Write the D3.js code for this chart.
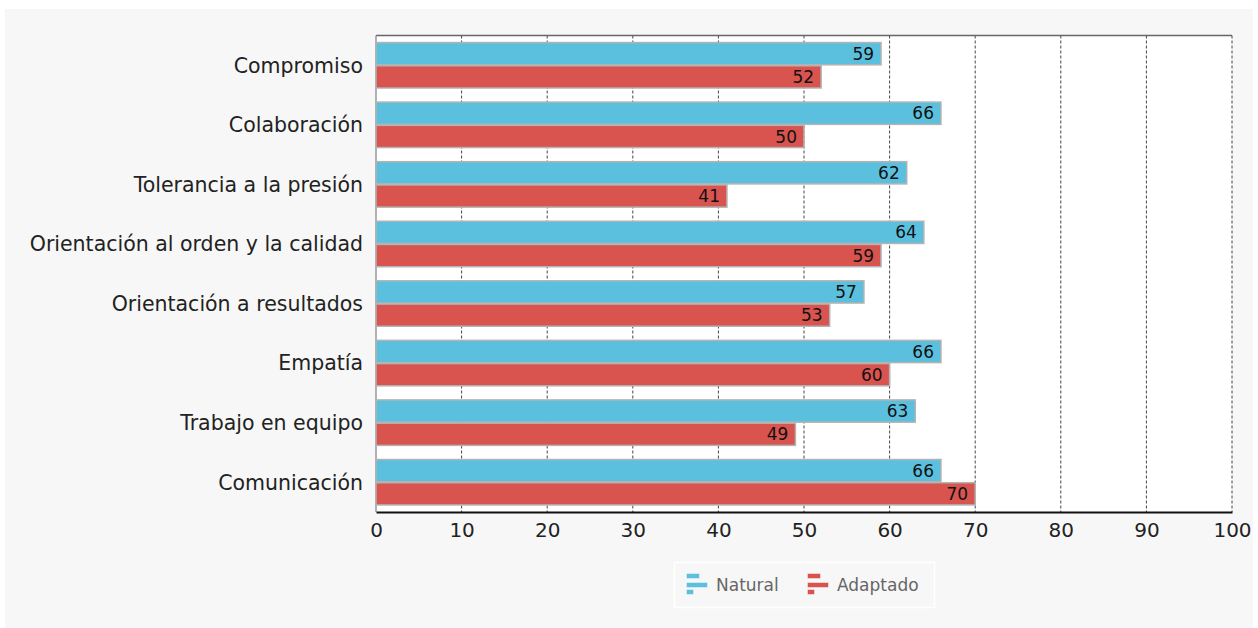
<!DOCTYPE html>
<html>
<head>
<meta charset="utf-8">
<script src="https://cdn.jsdelivr.net/npm/d3@7"></script>
<style>
  body { margin: 0; background: #fff; font-family: 'DejaVu Sans', sans-serif; }
</style>
</head>
<body>
<script>
// chart data
const categories = ['Compromiso', 'Colaboración', 'Tolerancia a la presión',
  'Orientación al orden y la calidad', 'Orientación a resultados', 'Empatía',
  'Trabajo en equipo', 'Comunicación'];
const natural = [59, 66, 62, 64, 57, 66, 63, 66];
const adaptado = [52, 50, 41, 59, 53, 60, 49, 70];
const seriesNames = ['Natural', 'Adaptado'];
const seriesColors = ['#5bc0de', '#d9534f'];
const xTicks = [0, 10, 20, 30, 40, 50, 60, 70, 80, 90, 100];

const w = 1258;
const h = 628;
const plotLeft = 376, plotRight = 1232, plotTop = 35.5, plotBottom = 512;

const svg = d3.select('body')
  .append('svg')
  .attr('width', w)
  .attr('height', h);

// panel background
svg.append('rect')
  .attr('x', 5).attr('y', 9)
  .attr('width', w - 10).attr('height', h - 9)
  .attr('fill', '#f7f7f7');

const xScale = d3.scaleLinear().domain([0, 100]).range([plotLeft, plotRight]);
const yScale = d3.scaleBand().domain(categories).range([plotTop, plotBottom])
  .paddingInner(0.22).paddingOuter(0.11);
const ySub = d3.scaleBand().domain(seriesNames).range([0, yScale.bandwidth()]);

// plot area
svg.append('rect')
  .attr('x', plotLeft).attr('y', plotTop)
  .attr('width', plotRight - plotLeft).attr('height', plotBottom - plotTop)
  .attr('fill', '#fff');

// dashed grid lines
svg.append('g')
  .selectAll('line')
  .data(xTicks.slice(1))
  .enter()
  .append('line')
  .attr('x1', (d) => xScale(d)).attr('x2', (d) => xScale(d))
  .attr('y1', plotTop).attr('y2', plotBottom)
  .attr('stroke', '#444')
  .attr('stroke-width', 1)
  .attr('stroke-dasharray', '3,2');

// top border and left edge
svg.append('line')
  .attr('x1', plotLeft).attr('x2', plotRight).attr('y1', plotTop).attr('y2', plotTop)
  .attr('stroke', '#666').attr('stroke-width', 1.5);
svg.append('line')
  .attr('x1', plotLeft).attr('x2', plotLeft).attr('y1', plotTop).attr('y2', plotBottom)
  .attr('stroke', '#999').attr('stroke-width', 1.5);

const rows = categories.map((c, i) => ({ cat: c, vals: [natural[i], adaptado[i]] }));

const groups = svg.selectAll('.row')
  .data(rows)
  .enter()
  .append('g')
  .attr('class', 'row')
  .attr('transform', (d) => `translate(0, ${yScale(d.cat)})`);

groups.selectAll('rect')
  .data((d) => d.vals.map((v, j) => ({ v: v, s: seriesNames[j], c: seriesColors[j] })))
  .enter()
  .append('rect')
  .attr('x', xScale(0))
  .attr('y', (d) => ySub(d.s) + 0.5)
  .attr('width', (d) => xScale(d.v) - xScale(0))
  .attr('height', ySub.bandwidth() - 1)
  .attr('fill', (d) => d.c)
  .attr('stroke', '#b3b3b3')
  .attr('stroke-width', 1.5);

// value labels inside the bars
groups.selectAll('text')
  .data((d) => d.vals.map((v, j) => ({ v: v, s: seriesNames[j] })))
  .enter()
  .append('text')
  .attr('x', (d) => xScale(d.v) - 7)
  .attr('y', (d) => ySub(d.s) + ySub.bandwidth() / 2)
  .attr('dy', '0.36em')
  .attr('text-anchor', 'end')
  .style('font-size', '17px')
  .attr('fill', '#111')
  .text((d) => d.v);

// category labels
svg.append('g')
  .selectAll('text')
  .data(categories)
  .enter()
  .append('text')
  .attr('x', 363)
  .attr('y', (d) => yScale(d) + yScale.bandwidth() / 2)
  .attr('dy', '0.36em')
  .attr('text-anchor', 'end')
  .style('font-size', '20.5px')
  .attr('fill', '#222')
  .text((d) => d);

// x axis
const xAxis = d3.axisBottom(xScale).tickValues(xTicks).tickSize(0).tickPadding(11);
const gx = svg.append('g')
  .attr('transform', `translate(0, ${plotBottom})`)
  .call(xAxis);
gx.select('.domain').attr('stroke', '#111').attr('stroke-width', 2);
gx.selectAll('text')
  .style('font-family', "'DejaVu Sans', sans-serif")
  .style('font-size', '20px')
  .attr('fill', '#222');

// legend
const legend = svg.append('g');
legend.append('rect')
  .attr('x', 674.5).attr('y', 562.5)
  .attr('width', 260).attr('height', 45)
  .attr('fill', 'none')
  .attr('stroke', '#fff')
  .attr('stroke-width', 1.5);

const legendX = [687, 808];
seriesNames.forEach((name, i) => {
  const g = legend.append('g').attr('transform', `translate(${legendX[i]}, 574)`);
  [[0, 0, 12], [0, 9, 20], [0, 16, 6]].forEach((b) => {
    g.append('rect')
      .attr('x', b[0]).attr('y', b[1])
      .attr('width', b[2]).attr('height', 4)
      .attr('fill', seriesColors[i])
      .attr('stroke', seriesColors[i])
      .attr('stroke-opacity', 0.5)
      .attr('stroke-width', 1);
  });
  legend.append('text')
    .attr('x', legendX[i] + 29)
    .attr('y', 585)
    .attr('dy', '0.36em')
    .style('font-size', '17px')
    .attr('fill', '#666')
    .text(name);
});
</script>
</body>
</html>
